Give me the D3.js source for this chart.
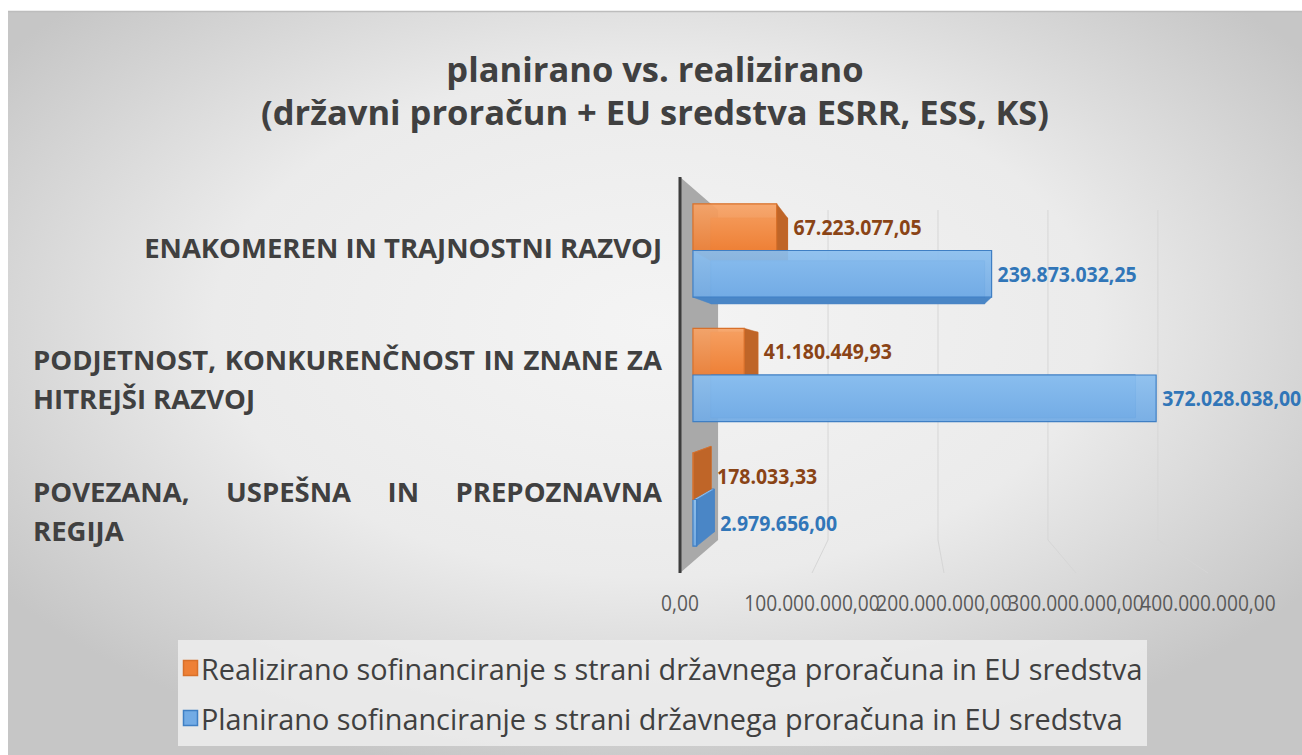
<!DOCTYPE html>
<html>
<head>
<meta charset="utf-8">
<script src="https://cdn.jsdelivr.net/npm/d3@7"></script>
<style>
  body { margin: 0; background: #ffffff; }
  svg { display: block; }
</style>
</head>
<body>
<svg id="chart" width="1302" height="755"></svg>
<script>
// ---- data ----
const titleLines = ["planirano vs. realizirano", "(državni proračun + EU sredstva ESRR, ESS, KS)"];
const categories = [
  "ENAKOMEREN IN TRAJNOSTNI RAZVOJ",
  "PODJETNOST, KONKURENČNOST IN ZNANE ZA HITREJŠI RAZVOJ",
  "POVEZANA, USPEŠNA IN PREPOZNAVNA REGIJA"
];
const seriesNames = [
  "Realizirano sofinanciranje s strani državnega proračuna in EU sredstva",
  "Planirano sofinanciranje s strani državnega proračuna in EU sredstva"
];
const realizirano = [67223077.05, 41180449.93, 178033.33];
const planirano = [239873032.25, 372028038.00, 2979656.00];
const tickValues = [0, 100000000, 200000000, 300000000, 400000000];

// ---- setup ----
const W = 1302, H = 755;
const svg = d3.select("#chart");
const defs = svg.append("defs");
const FONT = "'Open Sans', 'Noto Sans', sans-serif";
const TEXT = "#404040";

const locale = d3.formatLocale({ decimal: ",", thousands: ".", grouping: [3], currency: ["", " €"] });
const fmt = locale.format(",.2f");

// chart area background
const bg = defs.append("radialGradient").attr("id", "bg")
  .attr("cx", "50%").attr("cy", "42%").attr("r", "62%");
bg.append("stop").attr("offset", "0").attr("stop-color", "#f4f4f4");
bg.append("stop").attr("offset", "0.55").attr("stop-color", "#ebebeb");
bg.append("stop").attr("offset", "1").attr("stop-color", "#c6c6c6");

svg.append("rect").attr("x", 8).attr("y", 11).attr("width", W - 8).attr("height", H - 11)
  .attr("fill", "url(#bg)");
svg.append("line").attr("x1", 8).attr("x2", W).attr("y1", 11.5).attr("y2", 11.5)
  .attr("stroke", "#bdbdbd").attr("stroke-width", 1.5);

// title
svg.append("g").selectAll("text").data(titleLines).join("text")
  .attr("x", 655).attr("y", (d, i) => 68 + i * 43)
  .attr("text-anchor", "middle").attr("dominant-baseline", "central")
  .attr("font-family", FONT).attr("font-weight", 700).attr("font-size", 34.5)
  .attr("fill", TEXT).text(d => d);

// ---- 3D plot geometry ----
// front plane scales, projected toward a vanishing point for depth
const x = d3.scaleLinear().domain([0, 400000000]).range([680, 1208]);
const y = d3.scaleBand().domain(categories).range([177, 573])
  .paddingInner(0.25).paddingOuter(0.125);
const ySub = d3.scaleBand().domain([0, 1]).range([0, y.bandwidth()]);
const VP = { x: 908, y: 375 };
const backRatio = 0.833;
const depthFront = 0.34, depthBack = 0.81;
const yTop = y.range()[0], yBottom = y.range()[1];

function proj(xf, yf, t) {
  const s = 1 - t * (1 - backRatio);
  return [VP.x + (xf - VP.x) * s, VP.y + (yf - VP.y) * s];
}
const poly = pts => pts.map(p => p.join(",")).join(" ");

const plot = svg.append("g");

// side wall at value 0
plot.append("polygon")
  .attr("points", poly([proj(x(0), yTop, 0), proj(x(0), yTop, 1), proj(x(0), yBottom, 1), proj(x(0), yBottom, 0)]))
  .attr("fill", "#a9a9a9");

// gridlines on back wall and floor
const grid = plot.append("g").attr("stroke", "#d6d6d6").attr("stroke-width", 1).attr("fill", "none");
tickValues.filter(v => v > 0).forEach(v => {
  const a = proj(x(v), yTop, 1), b = proj(x(v), yBottom, 1), c = proj(x(v), yBottom, 0);
  grid.append("polyline").attr("points", poly([a, b, c]));
});

// category axis line
plot.append("line")
  .attr("x1", x(0)).attr("x2", x(0)).attr("y1", yTop).attr("y2", yBottom)
  .attr("stroke", "#3d3d3d").attr("stroke-width", 3);

// value axis tick labels (narrow face, long labels run into each other)
plot.append("g").selectAll("text").data(tickValues).join("text")
  .attr("transform", d => `translate(${proj(x(d), yBottom, 0)[0]},602) scale(0.87,1)`)
  .attr("text-anchor", "middle").attr("dominant-baseline", "central")
  .attr("font-family", FONT).attr("font-size", 22).attr("fill", "#595959")
  .text(d => fmt(d));

// bar colours
const palette = [
  { top: "#f7a366", bottom: "#ee8036", side: "#bf6528", edge: "#d8702a", label: "#8a4416" },
  { top: "#8bbfef", bottom: "#72abe5", side: "#4a86c6", edge: "#3f7fc4", label: "#3176b8" }
];
palette.forEach((p, i) => {
  const g = defs.append("linearGradient").attr("id", "front" + i)
    .attr("x1", 0).attr("y1", 0).attr("x2", 0).attr("y2", 1);
  g.append("stop").attr("offset", "0").attr("stop-color", p.top);
  g.append("stop").attr("offset", "1").attr("stop-color", p.bottom);
});

// bars
const bars = [];
categories.forEach((c, ci) => {
  [realizirano, planirano].forEach((arr, si) => {
    const y0 = y(c) + ySub(si), y1 = y0 + ySub.bandwidth();
    bars.push({ ci, si, value: arr[ci], y0, y1, x0: x(0), x1: x(arr[ci]) });
  });
});
// draw bars farthest from the eye line first
bars.sort((a, b) => Math.abs((b.y0 + b.y1) / 2 - VP.y) - Math.abs((a.y0 + a.y1) / 2 - VP.y));

const barG = plot.append("g");
bars.forEach(b => {
  const p = palette[b.si];
  const g = barG.append("g");
  const t1 = depthFront, t2 = depthBack;
  // back face, visible through the translucent front
  g.append("polygon")
    .attr("points", poly([proj(b.x0, b.y0, t2), proj(b.x1, b.y0, t2), proj(b.x1, b.y1, t2), proj(b.x0, b.y1, t2)]))
    .attr("fill", p.bottom).attr("stroke", p.edge).attr("stroke-width", 1);
  if (b.x1 < VP.x) {
    g.append("polygon")
      .attr("points", poly([proj(b.x1, b.y0, t1), proj(b.x1, b.y0, t2), proj(b.x1, b.y1, t2), proj(b.x1, b.y1, t1)]))
      .attr("fill", p.side).attr("stroke", p.side).attr("stroke-width", 0.5);
  }
  if (b.y1 < VP.y) {
    g.append("polygon")
      .attr("points", poly([proj(b.x0, b.y1, t1), proj(b.x1, b.y1, t1), proj(b.x1, b.y1, t2), proj(b.x0, b.y1, t2)]))
      .attr("fill", p.side).attr("stroke", p.side).attr("stroke-width", 0.5);
  }
  if (b.y0 > VP.y) {
    g.append("polygon")
      .attr("points", poly([proj(b.x0, b.y0, t1), proj(b.x1, b.y0, t1), proj(b.x1, b.y0, t2), proj(b.x0, b.y0, t2)]))
      .attr("fill", p.top).attr("stroke", p.edge).attr("stroke-width", 0.5);
  }
  g.append("polygon")
    .attr("points", poly([proj(b.x0, b.y0, t1), proj(b.x1, b.y0, t1), proj(b.x1, b.y1, t1), proj(b.x0, b.y1, t1)]))
    .attr("fill", "url(#front" + b.si + ")").attr("fill-opacity", 0.93)
    .attr("stroke", p.edge).attr("stroke-width", 1.2);
});

// data labels
const labelG = plot.append("g");
bars.forEach(b => {
  const p = palette[b.si];
  const xr = Math.max(proj(b.x1, b.y0, depthFront)[0], proj(b.x1, b.y0, depthBack)[0]);
  const yc = proj(b.x1, (b.y0 + b.y1) / 2, depthFront)[1];
  labelG.append("text")
    .attr("transform", `translate(${xr + 6},${yc}) scale(0.95,1)`)
    .attr("dominant-baseline", "central")
    .attr("font-family", FONT).attr("font-weight", 700).attr("font-size", 20.5)
    .attr("fill", p.label).text(fmt(b.value));
});

// category labels: right-aligned when they fit, otherwise wrapped and justified
const labelLeft = 33, labelRight = 662, labelWidth = labelRight - labelLeft;
const lineGap = 39;
const catG = svg.append("g").attr("font-family", FONT).attr("font-weight", 700)
  .attr("font-size", 27.5).attr("fill", TEXT);
const measure = catG.append("text").attr("visibility", "hidden");
const textWidth = s => { measure.text(s); return measure.node().getComputedTextLength(); };

categories.forEach(c => {
  const words = c.split(" ");
  const lines = [];
  let cur = [];
  words.forEach(w => {
    const trial = cur.concat(w).join(" ");
    if (cur.length && textWidth(trial) > labelWidth) { lines.push(cur); cur = [w]; }
    else cur.push(w);
  });
  if (cur.length) lines.push(cur);
  const cy = y(c) + y.bandwidth() / 2 + 4;
  const startY = cy - (lines.length - 1) * lineGap / 2;
  lines.forEach((ln, li) => {
    const ly = startY + li * lineGap;
    if (lines.length === 1) {
      catG.append("text").attr("x", labelRight).attr("y", ly)
        .attr("text-anchor", "end").attr("dominant-baseline", "central").text(ln.join(" "));
    } else if (li === lines.length - 1 || ln.length === 1) {
      catG.append("text").attr("x", labelLeft).attr("y", ly)
        .attr("dominant-baseline", "central").text(ln.join(" "));
    } else {
      const widths = ln.map(textWidth);
      const gap = (labelWidth - d3.sum(widths)) / (ln.length - 1);
      let cx = labelLeft;
      ln.forEach((w, wi) => {
        catG.append("text").attr("x", cx).attr("y", ly)
          .attr("dominant-baseline", "central").text(w);
        cx += widths[wi] + gap;
      });
    }
  });
});
measure.remove();

// legend
const legend = svg.append("g");
legend.append("rect").attr("x", 178).attr("y", 640).attr("width", 969).attr("height", 106)
  .attr("fill", "#ededed").attr("fill-opacity", 0.85);
seriesNames.forEach((name, i) => {
  const ry = 668 + i * 50;
  legend.append("rect").attr("x", 183.5).attr("y", ry - 7.5).attr("width", 14).attr("height", 15)
    .attr("fill", palette[i].bottom).attr("stroke", palette[i].edge).attr("stroke-width", 1.5);
  legend.append("text").attr("x", 201).attr("y", ry)
    .attr("dominant-baseline", "central")
    .attr("font-family", FONT).attr("font-size", 28.8).attr("fill", TEXT)
    .text(name);
});
</script>
</body>
</html>
